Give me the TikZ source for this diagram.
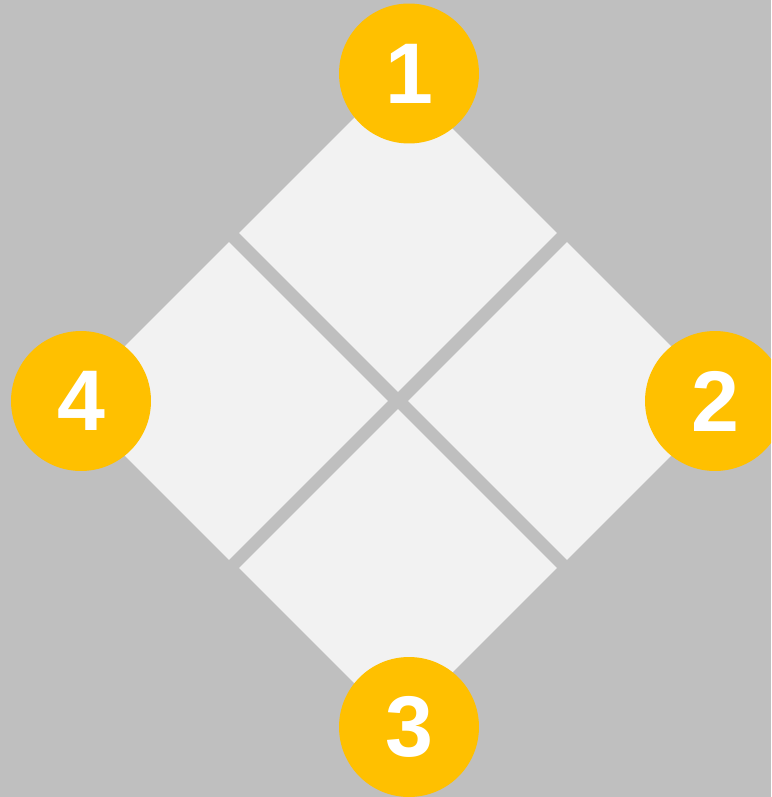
\documentclass[tikz,border=0pt]{standalone}
\usepackage{fontspec}
\setmainfont{Liberation Sans}
\usetikzlibrary{shapes.geometric,positioning}
\definecolor{backdrop}{HTML}{BFBFBF}
\definecolor{tile}{HTML}{F2F2F2}
\definecolor{gold}{HTML}{FFC000}

\begin{document}
\begin{tikzpicture}[x=0.02cm,y=-0.02cm,
    quad/.style={diamond,aspect=1,fill=tile,inner sep=0pt,minimum width=6.36cm,minimum height=6.36cm},
    badge/.style={circle,fill=gold,inner sep=0pt,minimum size=2.8cm,text=white,font=\fontsize{49}{49}\selectfont\bfseries}]
        \useasboundingbox (0,0) rectangle (771,797);
        \clip (0,0) rectangle (771,797);
        \fill[backdrop] (0,0) rectangle (771,797);
        % four tiles
        \node[quad] (top) at (398,233) {};
        \node[quad] (right) at (567,401) {};
        \node[quad] (left) at (229,401) {};
        \node[quad] (bottom) at (398,568) {};
        % numbered badges
        \node[badge] (one) at (409,73.5) {1};
        \node[badge] (two) at (715,401) {2};
        \node[badge] (three) at (409,727) {3};
        \node[badge] (four) at (81,401) {4};
      \end{tikzpicture}
\end{document}
